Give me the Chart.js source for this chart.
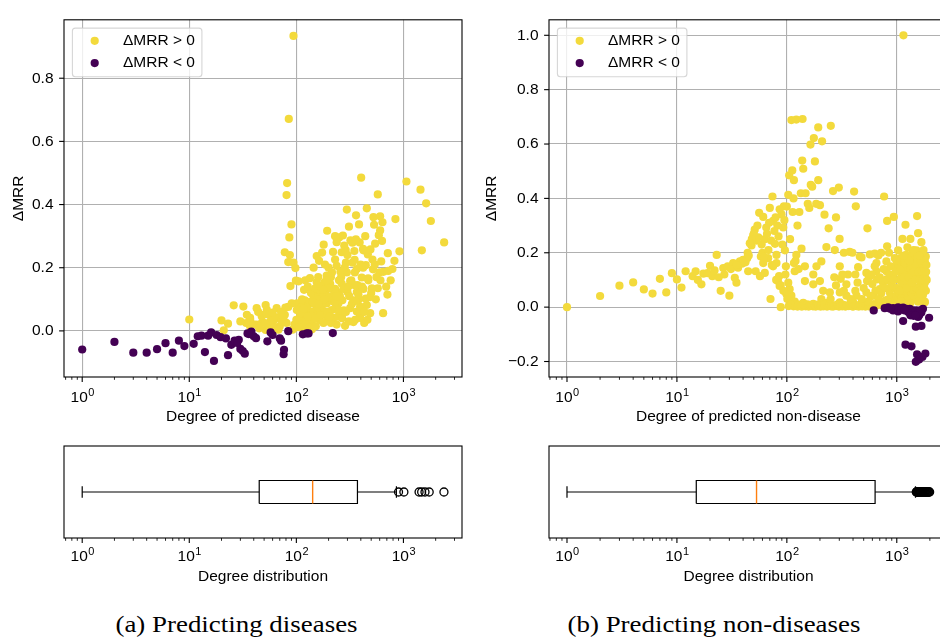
<!DOCTYPE html>
<html>
<head>
<meta charset="utf-8">
<script src="https://cdn.jsdelivr.net/npm/chart.js@4.4.0/dist/chart.umd.min.js"></script>
<style>
  html, body { margin: 0; padding: 0; background: #fff; }
  body { width: 940px; height: 639px; overflow: hidden; position: relative; }
  .panel { position: absolute; }
  .caption { position: absolute; top: 613px; font-family: "Liberation Serif", serif; font-size: 23.5px;
             line-height: 1; text-align: center; color: #000; white-space: nowrap; transform: scaleX(1.145); }
</style>
</head>
<body>
<div class="panel" style="left:0;top:0;width:470px;height:430px"><canvas id="scatterA" width="470" height="430"></canvas></div>
<div class="panel" style="left:470px;top:0;width:490px;height:430px"><canvas id="scatterB" width="490" height="430"></canvas></div>
<div class="panel" style="left:0;top:430px;width:470px;height:170px"><canvas id="boxA" width="470" height="170"></canvas></div>
<div class="panel" style="left:470px;top:430px;width:490px;height:170px"><canvas id="boxB" width="490" height="170"></canvas></div>
<div class="caption" style="left:0;width:473px">(a) Predicting diseases</div>
<div class="caption" style="left:464px;width:500px">(b) Predicting non-diseases</div>
<script>
// [degree, delta MRR]
const posA = [
  [94,0.934],[85,0.671],[82,0.468],[81,0.43],[90,0.337],[86,0.296],[78,0.249],[87,0.24],[84,0.218],[94,0.216],
  [98,0.199],[88,0.142],[99,0.159],[101,0.087],[84,0.076],[79,0.074],
  [10,0.036],[20,0.033],[23,0.023],[21,0.002],[26,0.081],[32,0.077],[34.5,0.051],[37,0.036],[42.6,0.072],[51.7,0.082],
  [53,0.067],[49,0.051],[56.6,0.05],[65.5,0.072],[67,0.041],[61,0.031],[47.8,0.026],[57,0.015],[51.7,0.003],[39.6,0.021],
  [70,0.015],[78,0.029],[37,0.041],[34,0.025],[47.5,0.046],[53,0.053],[57.7,0.032],[64.6,0.043],[73,0.031],[78,0.051],
  [51,0.025],[42.6,0.02],[81,0.025],[90.6,0.087],[37,0.015],[44,0.06],[60,0.058],[72,0.06],[45,0.008],[62,0.01],
  [68,0.004],[75,0.044],[30,0.03],
  [403,0.485],[1067,0.473],[1443,0.447],[1630,0.404],[1803,0.348],[2400,0.28],[1486,0.255],[918,0.252],[842,0.354],[576,0.432],
  [455,0.388],[296,0.384],[361,0.366],[385,0.337],[525,0.36],[606,0.363],[637,0.344],[532,0.336],[606,0.318],[589,0.303],
  [631,0.285],[544,0.276],[194,0.317],[180,0.273],[251,0.296],[272,0.302],[320,0.287],[334,0.279],[238,0.281],[220,0.25],
  [265,0.249],[289,0.256],[348,0.253],[423,0.255],[465,0.242],[492,0.258],[715,0.246],[824,0.222],[789,0.196],[650,0.187],
  [597,0.185],[709,0.115],[646,0.056],[461,0.035],[341,0.028],[285,0.016],[391,0.053],[489,0.056],[455,0.082],[445,0.102],
  [385,0.1],[341,0.097],[269,0.097],[247,0.121],[300,0.123],[367,0.123],[423,0.133],[507,0.135],[576,0.135],[408,0.169],
  [468,0.166],[318,0.158],[346,0.145],[296,0.185],[258,0.187],[238,0.206],[230,0.226],[290,0.216],[334,0.216],[367,0.196],
  [445,0.208],[514,0.226],[192,0.175],[207,0.149],[182,0.152],[155,0.154],[134,0.167],[121,0.16],[105,0.157],[155,0.237],
  [163,0.222],[174,0.248],[161,0.121],[179,0.112],[144,0.112],[134,0.092],[120,0.097],[112,0.076],[101,0.066],[125,0.056],
  [116,0.041],[104,0.025],[121,0.02],[139,0.031],[155,0.051],[173,0.072],[192,0.087],[214,0.066],[195,0.035],[222,0.041],
  [238,0.02],[179,0.025],[152,0.015],[132,0.01],[116,0.005],[97,0.01],[265,0.061],[247,0.087],[207,0.107],[230,0.133],
  [265,0.15],[275,0.133],[318,0.072],[367,0.061],[394,0.077],[489,0.107],[552,0.1],[394,0.041],[354,0.035],
  [108,0.045],[113,0.1],[118,0.13],[127,0.075],[131,0.045],[137,0.12],[142,0.06],[147,0.085],[150,0.135],[158,0.1],
  [166,0.065],[170,0.14],[176,0.09],[185,0.05],[188,0.13],[198,0.11],[203,0.06],[210,0.025],[217,0.095],[225,0.125],
  [233,0.07],[244,0.045],[255,0.11],[262,0.17],[278,0.065],[283,0.2],[305,0.14],[312,0.11],[326,0.16],[352,0.185],
  [372,0.145],[398,0.21],[410,0.14],[432,0.06],[470,0.16],[520,0.195],[560,0.17],[690,0.14],[160,0.17],[145,0.2],
  [200,0.2],[210,0.17],[128,0.14],[110,0.02],[140,0.005],[165,0.035],[300,0.24],[350,0.225],[390,0.28],[420,0.2],
  [92,0.004],[96,0.02],[100,0.035],[106,0.012],[111,0.055],[117,0.07],[123,0.035],[136,0.05],[148,0.04],[157,0.075],
  [169,0.05],[183,0.1],[194,0.06],[205,0.045],[228,0.09],[236,0.11],[250,0.065],[268,0.04],[290,0.06],[310,0.03],
  [330,0.085],[360,0.095],[380,0.115],[430,0.025],[500,0.12],[610,0.16],[540,0.21],[720,0.19],[760,0.16],[620,0.22],
  [420,0.26],[280,0.27],[230,0.3],[310,0.33],[360,0.29],[440,0.3],[250,0.16],[200,0.135],[215,0.185],[185,0.21],
  [128,0.045],[143,0.09],[162,0.085],[178,0.13],[190,0.16]
];
const negA = [
  [1,-0.059],[2,-0.035],[3,-0.069],[4,-0.069],[5,-0.058],[6,-0.039],[7,-0.069],[8,-0.031],[9,-0.048],[11,-0.041],
  [12,-0.017],[13,-0.015],[14,-0.067],[15,-0.015],[16,-0.005],[17,-0.095],[18,-0.013],[19.6,-0.02],[22,-0.024],[23,-0.077],
  [24.7,-0.044],[26.5,-0.031],[29,-0.028],[30,-0.057],[31.6,-0.064],[33,-0.072],[35,-0.008],[38,-0.002],[40,-0.017],[42,-0.023],
  [53.6,-0.033],[57.5,-0.005],[60,-0.013],[70,-0.024],[72,-0.031],[76.7,-0.06],[76,-0.074],[84,-0.001],[115,-0.011],[125,-0.008],
  [130,-0.008],[219,-0.007],[28,-0.038],[36,-0.01]
];
const posB = [
  [1,0.0],[2,0.041],[3,0.079],[4,0.091],[5,0.065],[6,0.05],[7,0.104],[8,0.054],[9,0.125],[10,0.102],
  [11,0.072],[12,0.132],[13.9,0.114],[14.8,0.132],[16.7,0.084],[17.4,0.123],[20,0.152],[21,0.114],[23,0.192],[25,0.06],
  [26.4,0.144],[29,0.15],[30,0.042],[32.5,0.162],[34.8,0.09],[33.6,0.108],[37.4,0.168],[40,0.174],[43.6,0.18],[44.5,0.132],
  [47.7,0.227],[49.4,0.263],[51,0.285],[55,0.257],[52,0.132],[57,0.114],[56,0.347],[61,0.332],[58,0.186],[65,0.293],
  [67.6,0.18],[71,0.03],[74,0.407],[70,0.365],[75,0.317],[78,0.233],[80.5,0.192],[83,0.096],[89.5,0.341],[92.7,0.293],
  [88,0.0],[94,0.371],[98,0.15],[103,0.413],[105,0.485],[112,0.503],[116,0.467],[110,0.688],[122,0.69],[139,0.692],
  [193,0.661],[251,0.667],[176,0.622],[209,0.61],[164,0.598],[138,0.539],[180,0.536],[141,0.509],[193,0.467],[170,0.443],
  [134,0.419],[148,0.419],[263,0.427],[297,0.44],[409,0.425],[424,0.371],[767,0.407],[940,0.332],[817,0.317],[1530,0.335],
  [1200,0.303],[541,0.29],[302,0.251],[229,0.221],[273,0.21],[373,0.203],[461,0.186],[569,0.194],[631,0.197],[817,0.224],
  [1127,0.251],[1330,0.251],[1563,0.272],[1675,0.239],[1028,0.209],[1224,0.192],[1511,0.209],[1800,0.168],[1836,0.186],[1406,0.174],
  [1028,0.164],[805,0.168],[653,0.162],[478,0.183],[303,0.15],[206,0.168],[186,0.15],[146,0.15],[122,0.192],[136,0.215],
  [116,0.162],[118,0.132],[174,0.12],[146,0.096],[174,0.084],[200,0.096],[214,0.06],[206,0.03],[246,0.054],[303,0.054],
  [309,0.104],[348,0.084],[445,0.147],[529,0.126],[537,0.096],[653,0.132],[661,0.102],[805,0.132],[805,0.102],[926,0.12],
  [993,0.15],[1142,0.138],[1224,0.102],[1360,0.162],[1511,0.138],[1675,0.114],[1800,0.09],[1740,0.054],[1800,0.018],[1511,0.054],
  [1314,0.042],[1142,0.066],[993,0.042],[863,0.054],[700,0.066],[609,0.042],[529,0.054],[430,0.042],[348,0.042],[401,0.018],
  [303,0.018],[229,0.016],[174,0.012],[141,0.016],[118,0.02],[110,0.042],[106,0.066],[99,0.048],[103,0.09],[86,0.078],
  [85,0.114],[96,0.209],[80.5,0.162],[75,0.15],[61,0.162],[63,0.126],[1150,1.0],
  [50,0.27],[53,0.245],[48,0.25],[46,0.235],[54,0.3],[59,0.23],[63,0.25],[66,0.27],[69,0.31],[72,0.245],
  [77,0.28],[82,0.3],[84,0.26],[91,0.23],[95,0.32],[100,0.37],[86,0.36],[79,0.33],[60,0.2],[68,0.21],
  [44,0.2],[39,0.16],[36,0.145],[31,0.14],[27,0.12],[24,0.11],[19,0.125],[22,0.135],[15.5,0.1],[35,0.155],
  [42,0.165],[45,0.19],[62,0.185],[73,0.155],[80,0.1],[88,0.08],[93,0.06],[97,0.12],[101,0.03],[107,0.25],
  [113,0.35],[115,0.4],[125,0.3],[130,0.35],[120,0.17],[128,0.14],[155,0.38],[160,0.365],[165,0.45],[185,0.38],
  [200,0.375],[220,0.34],[240,0.29],[280,0.33],[330,0.2],[395,0.2],[420,0.12],[360,0.12],[500,0.07],[560,0.11],
  [600,0.085],[700,0.11],[750,0.09],[900,0.09],[950,0.07],[1050,0.1],[1100,0.12],[1250,0.13],[1280,0.08],[1400,0.1],
  [1450,0.07],[1600,0.15],[1700,0.16],[1650,0.08],[1550,0.11],[1350,0.12],[1180,0.15],[1080,0.18],[960,0.18],[880,0.15],
  [760,0.14],[680,0.19],[590,0.12],[720,0.2],[850,0.2],[1250,0.22],[1450,0.19],[1700,0.2],[1750,0.21],
  [104,0.004],[109,0.008],[115,0.003],[119,0.006],[125,0.002],[128,0.009],[134,0.004],[137,0.002],[145,0.007],[148,0.003],
  [154,0.01],[158,0.002],[164,0.005],[167,0.008],[173,0.003],[179,0.006],[183,0.002],[191,0.009],[195,0.004],[203,0.002],
  [207,0.006],[216,0.003],[221,0.008],[232,0.002],[237,0.005],[246,0.01],[252,0.003],[263,0.002],[269,0.006],[280,0.004],
  [287,0.009],[298,0.002],[306,0.005],[319,0.003],[327,0.008],[341,0.002],[351,0.006],[366,0.004],[375,0.01],[392,0.003],
  [402,0.002],[419,0.007],[431,0.004],[451,0.002],[463,0.009],[484,0.003],[497,0.006],[519,0.002],[534,0.005],[557,0.003],
  [573,0.008],[598,0.002],[616,0.011],[642,0.004],[660,0.007],[688,0.014],[708,0.009],[737,0.02],[758,0.012],[790,0.025],
  [812,0.016],[846,0.03],[869,0.018],[906,0.035],[931,0.022],[969,0.028],[997,0.04],[1038,0.03],[1068,0.045],[1111,0.035],
  [1144,0.05],[1190,0.04],[1226,0.055],[1275,0.045],[1313,0.06],[1365,0.05],[1407,0.065],[1462,0.03],[1507,0.07],[1566,0.04],
  [1614,0.06],[1676,0.03],[1729,0.045],[1795,0.02],
  [720,0.05],[780,0.07],[820,0.1],[860,0.12],[890,0.08],[930,0.1],[980,0.13],[1010,0.07],[1060,0.06],[1090,0.14],
  [1120,0.09],[1160,0.11],[1200,0.16],[1230,0.07],[1260,0.18],[1290,0.11],[1330,0.14],[1370,0.09],[1390,0.2],[1420,0.13],
  [1470,0.16],[1490,0.1],[1530,0.18],[1580,0.13],[1620,0.1],[1660,0.17],[1690,0.13],[1720,0.1],[1770,0.14],[1810,0.11],
  [1840,0.06],[1850,0.13],[1780,0.07],[1640,0.05],[1380,0.03],[1240,0.025],[1100,0.02],[950,0.012],[1300,0.17],[1150,0.19],
  [1000,0.17],[1420,0.21],[1600,0.19],[1860,0.155],[1870,0.1],[1560,0.02],[1700,0.02],[1330,0.015],[1200,0.01],[1050,0.008],
  [900,0.006],[820,0.005],[680,0.03],[640,0.06],[580,0.04],[550,0.02],[480,0.03],[420,0.06],[380,0.03],[330,0.06],
  [280,0.08],[250,0.03],[320,0.12],[270,0.11],[440,0.09],[630,0.15]
];
const negB = [
  [617,-0.012],[777,-0.004],[834,-0.001],[926,-0.004],[1028,-0.001],[1142,-0.002],[1224,-0.006],[1314,-0.006],[1406,-0.012],[1511,-0.012],
  [1618,-0.016],[1270,-0.018],[1360,-0.024],[1460,-0.02],[1563,-0.024],[1675,-0.02],[1563,-0.036],[1420,-0.032],[1730,-0.006],[1142,-0.051],
  [1968,-0.039],[1490,-0.072],[1675,-0.069],[1200,-0.138],[1360,-0.144],[1530,-0.174],[1820,-0.171],[1710,-0.183],[1596,-0.193],[1490,-0.201],
  [926,-0.012],[1028,-0.016],[1100,-0.008],[870,-0.006],[1180,-0.012],[1330,-0.03],[1600,-0.03],[1650,-0.012],[1480,-0.03]
];

// whisker low, Q1, median, Q3, whisker high
const boxStatsA = [1, 45, 142, 372, 860];
const fliersA = [900, 1010, 1400, 1480, 1590, 1740, 2390];
const boxStatsB = [1, 15, 53, 635, 1480];
const fliersB = [1505, 1512, 1524, 1531, 1547, 1556, 1568, 1580, 1596, 1605, 1621, 1638, 1650, 1667, 1689,
                 1702, 1720, 1741, 1763, 1778, 1800, 1823, 1847, 1869, 1890, 1917, 1942, 1968, 1990];

const seriesLabels = ['\u0394MRR > 0', '\u0394MRR < 0'];
const xTickPowers = [0, 1, 2, 3];
const yTicksA = [0, 0.2, 0.4, 0.6, 0.8];
const yTicksB = [-0.2, 0, 0.2, 0.4, 0.6, 0.8, 1.0];

const YELLOW = '#f3da3c';
const PURPLE = '#440154';
const ORANGE = '#ff7f0e';
const GRID = '#b0b0b0';
const FONT = '"Liberation Sans", Arial, sans-serif';
const FS = 15.5;

Chart.defaults.font.family = FONT;
Chart.defaults.font.size = FS;
Chart.defaults.color = '#000';

// log ticks: majors at powers of ten, minors at 2..9
function logTicks(scale) {
  const ticks = [];
  for (let p = xTickPowers[0] - 1; p <= xTickPowers[xTickPowers.length - 1]; p++) {
    for (let m = 1; m <= 9; m++) {
      const v = m * Math.pow(10, p);
      if (v >= scale.min && v <= scale.max) ticks.push({ value: v, major: m === 1 });
    }
  }
  scale.ticks = ticks;
}

// matplotlib-like frame, tick marks and 10^n labels
const mplFrame = {
  id: 'mplFrame',
  afterDraw(chart, args, opts) {
    const { ctx, chartArea: a } = chart;
    const xs = chart.scales.x;
    ctx.save();
    ctx.strokeStyle = '#000';
    ctx.lineWidth = 1.1;
    ctx.strokeRect(a.left, a.top, a.right - a.left, a.bottom - a.top);
    xs.ticks.forEach(t => {
      const px = xs.getPixelForValue(t.value);
      ctx.lineWidth = t.major ? 1.1 : 0.85;
      ctx.beginPath();
      ctx.moveTo(px, a.bottom);
      ctx.lineTo(px, a.bottom + (t.major ? 4.9 : 2.8));
      ctx.stroke();
    });
    if (opts.yTicks) {
      const ys = chart.scales.y;
      ctx.lineWidth = 1.1;
      ys.ticks.forEach(t => {
        const py = ys.getPixelForValue(t.value);
        ctx.beginPath();
        ctx.moveTo(a.left - 4.9, py);
        ctx.lineTo(a.left, py);
        ctx.stroke();
      });
    }
    ctx.fillStyle = '#000';
    ctx.textBaseline = 'alphabetic';
    ctx.textAlign = 'left';
    xTickPowers.forEach(p => {
      const v = Math.pow(10, p);
      if (v < xs.min || v > xs.max) return;
      const px = xs.getPixelForValue(v);
      ctx.font = FS + 'px ' + FONT;
      const wBase = ctx.measureText('10').width;
      ctx.font = '11px ' + FONT;
      const wExp = ctx.measureText(String(p)).width;
      const x0 = px - (wBase + wExp) / 2;
      const base = a.bottom + opts.labelOffset;
      ctx.font = FS + 'px ' + FONT;
      ctx.fillText('10', x0, base);
      ctx.font = '11px ' + FONT;
      ctx.fillText(String(p), x0 + wBase + 0.5, base - 6);
    });
    ctx.restore();
  }
};

const mplLegend = {
  id: 'mplLegend',
  afterDraw(chart, args, opts) {
    if (!opts.show) return;
    const { ctx, chartArea: a } = chart;
    const left = a.left + 8.4, top = a.top + 8.3;
    ctx.save();
    ctx.beginPath();
    ctx.roundRect(left, top, 129.5, 48.7, 3);
    ctx.fillStyle = 'rgba(255,255,255,0.8)';
    ctx.fill();
    ctx.strokeStyle = 'rgba(204,204,204,0.8)';
    ctx.lineWidth = 1.1;
    ctx.stroke();
    chart.data.datasets.forEach((ds, i) => {
      const cy = top + 12.7 + i * 22.3;
      ctx.beginPath();
      ctx.arc(left + 22.3, cy, 4.1, 0, Math.PI * 2);
      ctx.fillStyle = ds.backgroundColor;
      ctx.fill();
      ctx.fillStyle = '#000';
      ctx.font = FS + 'px ' + FONT;
      ctx.textBaseline = 'middle';
      ctx.textAlign = 'left';
      ctx.fillText(ds.label, left + 50.6, cy);
    });
    ctx.restore();
  }
};

function toPoints(pairs) {
  return pairs.map(p => ({ x: p[0], y: p[1] }));
}

function scatterChart(id, pos, neg, cfg) {
  return new Chart(document.getElementById(id), {
    type: 'scatter',
    data: {
      datasets: [
        { label: seriesLabels[0], data: toPoints(pos), backgroundColor: YELLOW, pointRadius: 4.1, pointHoverRadius: 4.1, borderWidth: 0, order: 1 },
        { label: seriesLabels[1], data: toPoints(neg), backgroundColor: PURPLE, pointRadius: 4.1, pointHoverRadius: 4.1, borderWidth: 0, order: 0 }
      ]
    },
    options: {
      responsive: false,
      animation: false,
      events: [],
      layout: { padding: { left: 0, right: cfg.padRight, top: 11, bottom: 0 } },
      plugins: {
        legend: { display: false },
        tooltip: { enabled: false },
        mplFrame: { yTicks: true, labelOffset: 24.5 },
        mplLegend: { show: true }
      },
      scales: {
        x: {
          type: 'logarithmic', min: cfg.xMin, max: cfg.xMax,
          afterBuildTicks: logTicks,
          afterFit: s => { s.height = cfg.xAxisHeight; },
          ticks: { display: false },
          border: { display: false },
          grid: { color: c => (c.tick && c.tick.major ? GRID : 'rgba(0,0,0,0)'), lineWidth: 1.1, drawTicks: false },
          title: { display: true, text: cfg.xTitle, color: '#000', font: { size: FS }, padding: { top: 0, bottom: 4 } }
        },
        y: {
          type: 'linear', min: cfg.yMin, max: cfg.yMax,
          afterBuildTicks: s => { s.ticks = cfg.yTicks.map(v => ({ value: v })); },
          afterFit: s => { s.width = cfg.yAxisWidth; },
          ticks: { color: '#000', font: { size: FS }, padding: 10.5, callback: v => v.toFixed(1).replace('-', '\u2212') },
          border: { display: false },
          grid: { color: GRID, lineWidth: 1.1, drawTicks: false },
          title: { display: true, text: '\u0394MRR', color: '#000', font: { size: FS }, padding: { top: cfg.yTitlePad, bottom: 0 } }
        }
      }
    },
    plugins: [mplFrame, mplLegend]
  });
}

function boxChart(id, stats, fliers, cfg) {
  const [lo, q1, med, q3, hi] = stats;
  const half = 0.125, cap = 0.0625;
  const seg = (pts, color, w) => ({ data: pts, showLine: true, borderColor: color, borderWidth: w, pointRadius: 0, pointHoverRadius: 0, fill: false });
  return new Chart(document.getElementById(id), {
    type: 'scatter',
    data: {
      datasets: [
        seg([{ x: med, y: 1 - half }, { x: med, y: 1 + half }], ORANGE, 1.4),
        seg([{ x: q1, y: 1 - half }, { x: q3, y: 1 - half }, { x: q3, y: 1 + half }, { x: q1, y: 1 + half }, { x: q1, y: 1 - half }], '#000', 1.2),
        seg([{ x: lo, y: 1 }, { x: q1, y: 1 }], '#000', 1.2),
        seg([{ x: q3, y: 1 }, { x: hi, y: 1 }], '#000', 1.2),
        seg([{ x: lo, y: 1 - cap }, { x: lo, y: 1 + cap }], '#000', 1.2),
        seg([{ x: hi, y: 1 - cap }, { x: hi, y: 1 + cap }], '#000', 1.2),
        { data: fliers.map(v => ({ x: v, y: 1 })), pointStyle: 'circle', pointRadius: 4, pointHoverRadius: 4,
          backgroundColor: 'rgba(0,0,0,0)', borderColor: '#000', borderWidth: 1.3 }
      ]
    },
    options: {
      responsive: false,
      animation: false,
      events: [],
      layout: { padding: { left: cfg.padLeft, right: cfg.padRight, top: 16, bottom: 0 } },
      plugins: {
        legend: { display: false },
        tooltip: { enabled: false },
        mplFrame: { yTicks: false, labelOffset: 22.7 },
        mplLegend: { show: false }
      },
      scales: {
        x: {
          type: 'logarithmic', min: cfg.xMin, max: cfg.xMax,
          afterBuildTicks: logTicks,
          afterFit: s => { s.height = 62; },
          ticks: { display: false },
          border: { display: false },
          grid: { display: false },
          title: { display: true, text: 'Degree distribution', color: '#000', font: { size: FS }, padding: { top: 0, bottom: 13.7 } }
        },
        y: { type: 'linear', display: false, min: 0.5, max: 1.5 }
      }
    },
    plugins: [mplFrame]
  });
}

scatterChart('scatterA', posA, negA, {
  xMin: 0.676, xMax: 3524, yMin: -0.146, yMax: 0.985, yTicks: yTicksA,
  yAxisWidth: 64, padRight: 8, xAxisHeight: 53, yTitlePad: 9, xTitle: 'Degree of predicted disease'
});
scatterChart('scatterB', posB, negB, {
  xMin: 0.686, xMax: 2924, yMin: -0.257, yMax: 1.057, yTicks: yTicksB,
  yAxisWidth: 79, padRight: 12, xAxisHeight: 53, yTitlePad: 12.7, xTitle: 'Degree of predicted non-disease'
});
boxChart('boxA', boxStatsA, fliersA, { xMin: 0.676, xMax: 3524, padLeft: 64, padRight: 8 });
boxChart('boxB', boxStatsB, fliersB, { xMin: 0.686, xMax: 2924, padLeft: 79, padRight: 12 });
</script>
</body>
</html>
